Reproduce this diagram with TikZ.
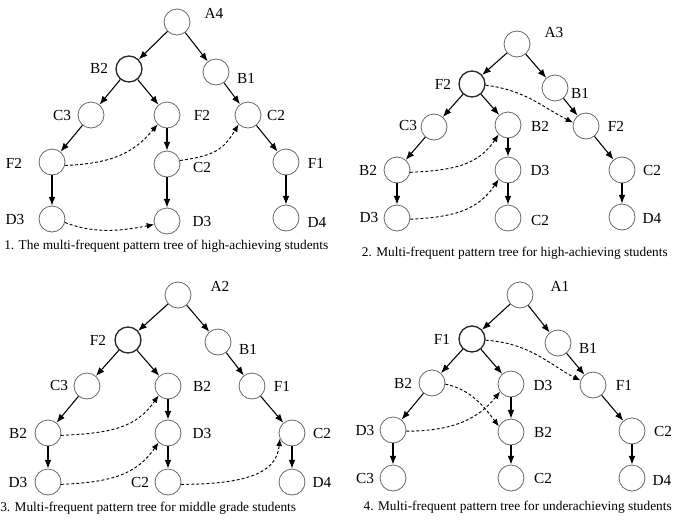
\documentclass[tikz,border=0pt]{standalone}
\usepackage{fontspec}
\setmainfont{Liberation Serif}
\usetikzlibrary{arrows.meta}
\begin{document}
\begin{tikzpicture}[x=0.75pt,y=-0.75pt,
  nd/.style={circle,draw=black!60,line width=0.6pt,minimum size=19.5pt,inner sep=0pt},
  ndroot/.style={nd,draw=black!85,line width=1pt},
  lbl/.style={font=\fontsize{11.5}{13}\selectfont,inner sep=0pt},
  captext/.style={font=\fontsize{10}{12}\selectfont,inner sep=0pt},
  edge/.style={line width=0.8pt,-{Latex[length=6.5pt,width=5pt]}},
  link/.style={line width=0.7pt,dashed,dash pattern=on 2.2pt off 1.6pt,-{Latex[length=5.5pt,width=4.5pt]}}]
\useasboundingbox (0,0) rectangle (674,525);

% ---------- tree 1 ----------
\node[nd] (a1) at (177,22) {};      \node[lbl] (a1l) at (214,13) {A4};
\node[ndroot] (a1b2) at (129,69) {}; \node[lbl] (a1b2l) at (99,68) {B2};
\node[nd] (a1b1) at (216,72) {};    \node[lbl] (a1b1l) at (246,78) {B1};
\node[nd] (a1c3) at (91,115) {};    \node[lbl] (a1c3l) at (62,115) {C3};
\node[nd] (a1f2m) at (167,115) {};  \node[lbl] (a1f2ml) at (202,115) {F2};
\node[nd] (a1c2r) at (248,115) {};  \node[lbl] (a1c2rl) at (276,115) {C2};
\node[nd] (a1f2l) at (52,162) {};   \node[lbl] (a1f2ll) at (14,163) {F2};
\node[nd] (a1c2m) at (167,164) {};  \node[lbl] (a1c2ml) at (202,167) {C2};
\node[nd] (a1f1) at (286,162) {};   \node[lbl] (a1f1l) at (316,163) {F1};
\node[nd] (a1d3l) at (52,219) {};   \node[lbl] (a1d3ll) at (15,219) {D3};
\node[nd] (a1d3m) at (167,221) {};  \node[lbl] (a1d3ml) at (202,221) {D3};
\node[nd] (a1d4) at (286,218) {};   \node[lbl] (a1d4l) at (317,222) {D4};
\draw[edge] (a1) -- (a1b2);
\draw[edge] (a1) -- (a1b1);
\draw[edge] (a1b2) -- (a1c3);
\draw[edge] (a1b2) -- (a1f2m);
\draw[edge] (a1b1) -- (a1c2r);
\draw[edge] (a1c3) -- (a1f2l);
\draw[edge] (a1f2m) -- (a1c2m);
\draw[edge] (a1c2r) -- (a1f1);
\draw[edge] (a1f2l) -- (a1d3l);
\draw[edge] (a1c2m) -- (a1d3m);
\draw[edge] (a1f1) -- (a1d4);
\draw[link] (a1f2l.-15) .. controls +(45,-2) and +(-25,30) .. (a1f2m.225);
\draw[link] (a1c2m.15) .. controls +(35,-5) and +(-15,25) .. (a1c2r.225);
\draw[link] (a1d3l.-15) .. controls +(30,12) and +(-30,6) .. (a1d3m.195);
\node[captext,anchor=west] (cap1) at (4,246) {1. The multi-frequent pattern tree of high-achieving students};

% ---------- tree 2 ----------
\node[nd] (a2) at (517,44) {};      \node[lbl] (a2l) at (554,32) {A3};
\node[ndroot] (a2f2) at (472,84) {}; \node[lbl] (a2f2l) at (443,84) {F2};
\node[nd] (a2b1) at (555,88) {};    \node[lbl] (a2b1l) at (580,93) {B1};
\node[nd] (a2c3) at (434,127) {};   \node[lbl] (a2c3l) at (408,125) {C3};
\node[nd] (a2b2m) at (508,125) {};  \node[lbl] (a2b2ml) at (540,126) {B2};
\node[nd] (a2f2r) at (586,126) {};  \node[lbl] (a2f2rl) at (616,126) {F2};
\node[nd] (a2b2l) at (397,170) {};  \node[lbl] (a2b2ll) at (368,170) {B2};
\node[nd] (a2d3m) at (508,170) {};  \node[lbl] (a2d3ml) at (540,170) {D3};
\node[nd] (a2c2r) at (622,170) {};  \node[lbl] (a2c2rl) at (652,170) {C2};
\node[nd] (a2d3b) at (397,218) {};  \node[lbl] (a2d3bl) at (369,217) {D3};
\node[nd] (a2c2b) at (508,218) {};  \node[lbl] (a2c2bl) at (540,220) {C2};
\node[nd] (a2d4) at (622,217) {};   \node[lbl] (a2d4l) at (652,218) {D4};
\draw[edge] (a2) -- (a2f2);
\draw[edge] (a2) -- (a2b1);
\draw[edge] (a2f2) -- (a2c3);
\draw[edge] (a2f2) -- (a2b2m);
\draw[edge] (a2b1) -- (a2f2r);
\draw[edge] (a2c3) -- (a2b2l);
\draw[edge] (a2b2m) -- (a2d3m);
\draw[edge] (a2f2r) -- (a2c2r);
\draw[edge] (a2b2l) -- (a2d3b);
\draw[edge] (a2d3m) -- (a2c2b);
\draw[edge] (a2c2r) -- (a2d4);
\draw[link] (a2f2.-5) .. controls +(40,5) and +(-30,-15) .. (a2f2r.165);
\draw[link] (a2b2l.-10) .. controls +(45,-2) and +(-20,30) .. (a2b2m.225);
\draw[link] (a2d3b.-5) .. controls +(45,-2) and +(-20,30) .. (a2d3m.225);
\node[captext,anchor=east] (cap2) at (668,253) {2. Multi-frequent pattern tree for high-achieving students};

% ---------- tree 3 ----------
\node[nd] (a3) at (178,295) {};     \node[lbl] (a3l) at (220,286) {A2};
\node[ndroot] (a3f2) at (128,340) {}; \node[lbl] (a3f2l) at (98,340) {F2};
\node[nd] (a3b1) at (218,342) {};   \node[lbl] (a3b1l) at (248,349) {B1};
\node[nd] (a3c3) at (87,386) {};    \node[lbl] (a3c3l) at (59,385) {C3};
\node[nd] (a3b2m) at (168,386) {};  \node[lbl] (a3b2ml) at (202,386) {B2};
\node[nd] (a3f1) at (252,386) {};   \node[lbl] (a3f1l) at (282,386) {F1};
\node[nd] (a3b2l) at (48,433) {};   \node[lbl] (a3b2ll) at (18,433) {B2};
\node[nd] (a3d3m) at (168,433) {};  \node[lbl] (a3d3ml) at (202,433) {D3};
\node[nd] (a3c2r) at (292,433) {};  \node[lbl] (a3c2rl) at (322,433) {C2};
\node[nd] (a3d3b) at (48,482) {};   \node[lbl] (a3d3bl) at (18,482) {D3};
\node[nd] (a3c2b) at (168,482) {};  \node[lbl] (a3c2bl) at (140,482) {C2};
\node[nd] (a3d4) at (292,482) {};   \node[lbl] (a3d4l) at (322,482) {D4};
\draw[edge] (a3) -- (a3f2);
\draw[edge] (a3) -- (a3b1);
\draw[edge] (a3f2) -- (a3c3);
\draw[edge] (a3f2) -- (a3b2m);
\draw[edge] (a3b1) -- (a3f1);
\draw[edge] (a3c3) -- (a3b2l);
\draw[edge] (a3b2m) -- (a3d3m);
\draw[edge] (a3f1) -- (a3c2r);
\draw[edge] (a3b2l) -- (a3d3b);
\draw[edge] (a3d3m) -- (a3c2b);
\draw[edge] (a3c2r) -- (a3d4);
\draw[link] (a3b2l.-10) .. controls +(50,-2) and +(-22,32) .. (a3b2m.225);
\draw[link] (a3d3b.-10) .. controls +(50,-2) and +(-22,32) .. (a3d3m.225);
\draw[link] (a3c2b.-10) .. controls +(75,0) and +(-3,30) .. (a3c2r.205);
\node[captext,anchor=west] (cap3) at (0,508) {3. Multi-frequent pattern tree for middle grade students};

% ---------- tree 4 ----------
\node[nd] (a4) at (520,295) {};     \node[lbl] (a4l) at (560,286) {A1};
\node[ndroot] (a4f1) at (472,339) {}; \node[lbl] (a4f1l) at (442,339) {F1};
\node[nd] (a4b1) at (558,343) {};   \node[lbl] (a4b1l) at (588,348) {B1};
\node[nd] (a4b2) at (432,383) {};   \node[lbl] (a4b2l) at (403,383) {B2};
\node[nd] (a4d3m) at (511,384) {};  \node[lbl] (a4d3ml) at (543,385) {D3};
\node[nd] (a4f1r) at (593,385) {};  \node[lbl] (a4f1rl) at (624,385) {F1};
\node[nd] (a4d3l) at (393,430) {};  \node[lbl] (a4d3ll) at (365,430) {D3};
\node[nd] (a4b2m) at (511,432) {};  \node[lbl] (a4b2ml) at (543,432) {B2};
\node[nd] (a4c2r) at (632,431) {};  \node[lbl] (a4c2rl) at (663,431) {C2};
\node[nd] (a4c3) at (393,478) {};   \node[lbl] (a4c3l) at (365,478) {C3};
\node[nd] (a4c2b) at (511,478) {};  \node[lbl] (a4c2bl) at (543,478) {C2};
\node[nd] (a4d4) at (632,478) {};   \node[lbl] (a4d4l) at (662,480) {D4};
\draw[edge] (a4) -- (a4f1);
\draw[edge] (a4) -- (a4b1);
\draw[edge] (a4f1) -- (a4b2);
\draw[edge] (a4f1) -- (a4d3m);
\draw[edge] (a4b1) -- (a4f1r);
\draw[edge] (a4b2) -- (a4d3l);
\draw[edge] (a4d3m) -- (a4b2m);
\draw[edge] (a4f1r) -- (a4c2r);
\draw[edge] (a4d3l) -- (a4c3);
\draw[edge] (a4b2m) -- (a4c2b);
\draw[edge] (a4c2r) -- (a4d4);
\draw[link] (a4f1.-5) .. controls +(45,3) and +(-30,-15) .. (a4f1r.160);
\draw[link] (a4b2.-5) .. controls +(25,5) and +(-15,-20) .. (a4b2m.155);
\draw[link] (a4d3l.-5) .. controls +(50,0) and +(-20,25) .. (a4d3m.215);
\node[captext,anchor=east] (cap4) at (672,507) {4. Multi-frequent pattern tree for underachieving students};
\end{tikzpicture}
\end{document}
